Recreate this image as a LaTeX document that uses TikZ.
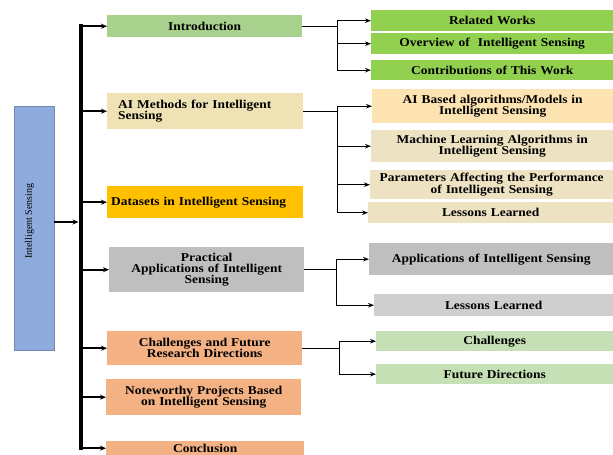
\documentclass[tikz,border=0pt]{standalone}
\usepackage{fontspec}
\setmainfont{Liberation Serif}[BoldFont={Liberation Serif Bold},FakeStretch=1.12]
\newfontfamily\plainserif{Liberation Serif}
\usetikzlibrary{arrows.meta}
\definecolor{skyblue}{HTML}{8FAADC}
\definecolor{introgreen}{HTML}{A9D18E}
\definecolor{aimtan}{HTML}{EFE2B4}
\definecolor{datagold}{HTML}{FFC000}
\definecolor{pracgray}{HTML}{BFBFBF}
\definecolor{salmon}{HTML}{F4B183}
\definecolor{leafgreen}{HTML}{92D050}
\definecolor{peach}{HTML}{FDE3B2}
\definecolor{sand}{HTML}{EDE2C2}
\definecolor{palegray}{HTML}{CFCFCF}
\definecolor{mint}{HTML}{C5E0B4}

\begin{document}
\begin{tikzpicture}[x=1pt,y=-1pt,font=\bfseries\fontsize{12}{11}\selectfont,
  box/.style={anchor=north west,inner sep=0pt,align=center},
  feed/.style={line width=2pt,-{Stealth[length=6pt,width=5pt]}},
  link/.style={line width=1.4pt,line cap=rect},
  linkto/.style={line width=1.4pt,-{Stealth[length=6pt,width=4.5pt]}}]
\useasboundingbox (0,0) rectangle (613,455);
\node[box,anchor=center,rotate=90,fill=skyblue,draw=skyblue!80!black,line width=.4pt,minimum width=244pt,minimum height=40pt,text depth=11pt,font=\plainserif\fontsize{10}{10}\selectfont] (sensing) at (34,228) {\hspace*{14pt}Intelligent Sensing};
\node[box,fill=introgreen,text width=195pt,minimum height=22pt] (intro) at (107,15) {Introduction};
\node[box,fill=aimtan,text width=174pt,inner xsep=11pt,minimum height=36pt,align=left] (aim) at (107,93) {AI Methods for Intelligent\\Sensing};
\node[box,fill=datagold,text width=188pt,inner xsep=4pt,minimum height=32pt,align=left] (data) at (107,186) {Datasets in Intelligent Sensing};
\node[box,fill=pracgray,text width=195pt,minimum height=45pt] (prac) at (109,247) {Practical\\Applications of Intelligent\\Sensing};
\node[box,fill=salmon,text width=195pt,minimum height=34pt] (chal) at (107,331) {Challenges and Future\\Research Directions};
\node[box,fill=salmon,text width=195pt,minimum height=36pt] (note) at (106,379) {Noteworthy Projects Based\\on Intelligent Sensing};
\node[box,fill=salmon,text width=198pt,minimum height=14pt] (concl) at (106,441) {Conclusion};
\node[box,fill=leafgreen,text width=242pt,minimum height=21pt] (related) at (371,10) {Related Works};
\node[box,fill=leafgreen,text width=242pt,minimum height=21pt] (overview) at (371,33) {Overview of\ \ Intelligent Sensing};
\node[box,fill=leafgreen,text width=242pt,minimum height=20pt] (contrib) at (371,60) {Contributions of This Work};
\node[box,fill=peach,text width=241pt,minimum height=34pt] (aibased) at (372,89) {AI Based algorithms/Models in\\Intelligent Sensing};
\node[box,fill=sand,text width=242pt,minimum height=32pt] (mlalg) at (371,130) {Machine Learning Algorithms in\\Intelligent Sensing};
\node[box,fill=sand,text width=243pt,minimum height=29pt] (params) at (370,170) {Parameters Affecting the Performance\\of Intelligent Sensing};
\node[box,fill=sand,text width=245pt,minimum height=21pt] (lessonsa) at (368,202) {Lessons Learned};
\node[box,fill=pracgray,text width=244pt,minimum height=32pt] (apps) at (369,243) {Applications of Intelligent Sensing};
\node[box,fill=palegray,text width=239pt,minimum height=22pt] (lessonsb) at (374,294) {Lessons Learned};
\node[box,fill=mint,text width=237pt,minimum height=20pt] (challenges) at (376,331) {Challenges};
\node[box,fill=mint,text width=237pt,minimum height=20pt] (future) at (376,364) {Future Directions};
\coordinate (bartop) at (81,26);
\draw[line width=4.5pt,line cap=rect] (bartop) -- (bartop |- concl.west);
\coordinate (tap) at ([yshift=6pt]sensing.south);
\draw[feed,shorten >=2.5pt] (tap) -- (tap -| bartop);
\foreach \n in {intro,aim,data,prac,chal,note,concl}
  \draw[feed] (bartop |- \n.west) -- (\n.west);
\draw[link] (intro.east) -- ++(35,0) coordinate (introfork);
\draw[link] (introfork |- related.west) -- (introfork |- contrib.west);
\foreach \n in {related,overview,contrib}
  \draw[linkto] (introfork |- \n.west) -- (\n.west);
\draw[link] (aim.east) -- ++(34,0) coordinate (aimfork);
\draw[link] (aimfork |- aibased.west) -- (aimfork |- lessonsa.west);
\foreach \n in {aibased,mlalg,params,lessonsa}
  \draw[linkto] (aimfork |- \n.west) -- (\n.west);
\draw[link] (prac.east) -- ++(32,0) coordinate (pracfork);
\draw[link] (pracfork |- apps.west) -- (pracfork |- lessonsb.west);
\foreach \n in {apps,lessonsb}
  \draw[linkto] (pracfork |- \n.west) -- (\n.west);
\draw[link] (chal.east) -- ++(37,0) coordinate (chalfork);
\draw[link] (chalfork |- challenges.west) -- (chalfork |- future.west);
\foreach \n in {challenges,future}
  \draw[linkto] (chalfork |- \n.west) -- (\n.west);
\end{tikzpicture}
\end{document}
